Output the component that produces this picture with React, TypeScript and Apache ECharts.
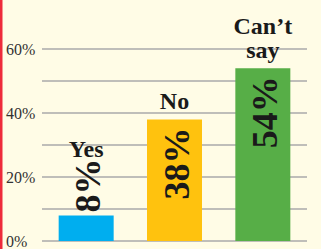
import React, { useEffect, useRef } from "react";
import * as echarts from "echarts";

const categories = ["Yes", "No", "Can\u2019t\nsay"];
const values = [8, 38, 54];
const barColors = ["#00AEEF", "#FFC20E", "#57AE47"];
const yTicks = [0, 20, 40, 60];

const SERIF = "'Liberation Serif', 'Times New Roman', serif";

export default function App() {
  const ref = useRef<HTMLDivElement>(null);
  useEffect(() => {
    document.body.style.margin = "0";
    const chart = echarts.init(ref.current!, undefined, { renderer: "svg" });
    const valueLabelLen = 54;
    const barData = values.map((v, i) => {
      const small = v < 15;
      return {
        value: v,
        itemStyle: { color: barColors[i] },
        label: small
          ? { position: "top", distance: 3, align: "left", verticalAlign: "middle", offset: [0, 2] }
          : { position: "insideTop", distance: 8, align: "right", verticalAlign: "middle", offset: [0, 2] },
      };
    });
    const catData = values.map((v, i) => {
      const small = v < 15;
      return {
        value: v,
        label: { distance: small ? valueLabelLen : 6 },
      };
    });
    chart.setOption({
      animation: false,
      backgroundColor: "#FFFCE6",
      grid: { left: 42, right: 14, top: 49, bottom: 4, containLabel: false },
      xAxis: {
        type: "category",
        data: categories,
        axisLine: { show: false },
        axisTick: { show: false },
        axisLabel: { show: false },
      },
      yAxis: {
        type: "value",
        min: 0,
        max: 60,
        interval: 10,
        axisLine: { show: false },
        axisTick: { show: false },
        axisLabel: {
          align: "left",
          margin: 36,
          fontFamily: SERIF,
          fontSize: 16,
          color: "#333",
          formatter: (v: number) => (yTicks.includes(v) ? v + "%" : ""),
        },
        splitLine: { lineStyle: { color: "#AAAAAA", width: 1.5 } },
      },
      graphic: [
        { type: "rect", left: 0, top: 0, shape: { width: 2.5, height: 249 }, style: { fill: "#EE2B3B" } },
      ],
      series: [
        {
          type: "bar",
          data: barData,
          barWidth: 55,
          z: 2,
          label: {
            show: true,
            rotate: 90,
            formatter: (p: any) => p.value + "%",
            fontFamily: SERIF,
            fontWeight: "bold",
            fontSize: 36,
            color: "#1a1a1a",
          },
        },
        {
          type: "bar",
          data: catData,
          barWidth: 55,
          barGap: "-100%",
          itemStyle: { color: "transparent" },
          z: 3,
          label: {
            show: true,
            position: "top",
            formatter: (p: any) => categories[p.dataIndex],
            fontFamily: SERIF,
            fontWeight: "bold",
            fontSize: 24,
            lineHeight: 24,
            color: "#1a1a1a",
          },
        },
      ],
    });
    return () => chart.dispose();
  }, []);
  return <div ref={ref} style={{ width: 321, height: 249 }} />;
}
